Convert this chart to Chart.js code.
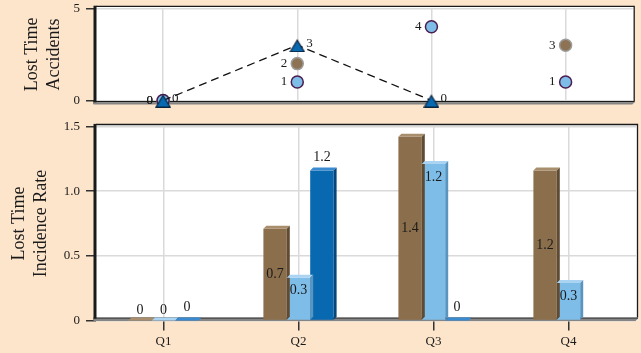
<!DOCTYPE html>
<html>
<head>
<meta charset="utf-8">
<script src="https://cdn.jsdelivr.net/npm/chart.js"></script>
<style>
  html, body { margin: 0; padding: 0; background: #fde5cc; }
  #wrap { position: relative; width: 641px; height: 353px; overflow: hidden; }
  #top { position: absolute; left: 0; top: 0; }
  #bottom { position: absolute; left: 0; top: 110px; }
</style>
</head>
<body>
<div id="wrap">
  <canvas id="top" width="641" height="110"></canvas>
  <canvas id="bottom" width="641" height="243"></canvas>
</div>
<script>
const quarters = ['Q1', 'Q2', 'Q3', 'Q4'];

// top panel - lost time accidents
const accidentsBrown = [0, 2, null, 3];
const accidentsLight = [0, 1, 4, 1];
const accidentsTriangle = [0, 3, 0, null];
const accidentTicks = [0, 5];

// bottom panel - lost time incidence rate
const rateBrown = [0, 0.71, 1.42, 1.16];
const rateLight = [0, 0.33, 1.21, 0.29];
const rateDark = [0, 1.16, 0, null];
const rateTicks = [0, 0.5, 1, 1.5];

const BROWN = '#8b6f4d';
const LIGHT = '#7fbde9';
const DARK = '#0868b0';
const GRID = '#dadada';
const TEXT = '#1a1a1a';
const SERIF = '"Liberation Serif", "Times New Roman", serif';

// triangle marker, centred on its bounding box like the original
function triangleImage() {
  const c = document.createElement('canvas');
  c.width = 16; c.height = 14;
  const g = c.getContext('2d');
  g.beginPath();
  g.moveTo(8, 2); g.lineTo(15, 13.5); g.lineTo(1, 13.5); g.closePath();
  g.fillStyle = DARK; g.fill();
  g.lineWidth = 1.2; g.strokeStyle = '#0b2440'; g.stroke();
  return c;
}

// white plot area with the dark 3D-ish frame
const frame = {
  id: 'frame',
  beforeDraw(chart) {
    const {ctx, chartArea: a} = chart;
    ctx.save();
    ctx.fillStyle = '#fff';
    ctx.fillRect(a.left, a.top - 2, a.right - a.left + 2, a.bottom - a.top + 2);
    ctx.restore();
  },
  beforeDatasetsDraw(chart, args, opts) {
    const {ctx, chartArea: a} = chart;
    const t = a.top - 2, r = a.right + 1.5, l = a.left;
    const bb = a.bottom + opts.band;
    ctx.save();
    ctx.strokeStyle = '#1a1a1a';
    ctx.lineWidth = 1.3;
    ctx.beginPath();
    ctx.moveTo(l, t); ctx.lineTo(r, t); ctx.lineTo(r, bb);
    ctx.stroke();
    ctx.fillStyle = '#1a1a1a';
    ctx.fillRect(l - 2.5, t - 0.6, 3, bb - t + 3.5);
    ctx.fillRect(l - 2.5, bb, r - l + 3, 1.3);
    ctx.fillStyle = '#858585';
    ctx.beginPath();
    ctx.moveTo(l - 2.5, bb + 1.3); ctx.lineTo(r + 0.5, bb + 1.3);
    ctx.lineTo(r - 2, bb + 3.5); ctx.lineTo(l - 2.5, bb + 3.5);
    ctx.fill();
    ctx.restore();
  }
};

// top and side faces for the bars
const bar3d = {
  id: 'bar3d',
  afterDatasetsDraw(chart) {
    const ctx = chart.ctx;
    const d = 3;
    chart.data.datasets.forEach((ds, i) => {
      if (!ds.faces) return;
      chart.getDatasetMeta(i).data.forEach((el, j) => {
        if (ds.data[j] === null) return;
        const l = el.x - el.width / 2, r = el.x + el.width / 2;
        ctx.save();
        ctx.fillStyle = ds.faces[0];
        ctx.beginPath();
        ctx.moveTo(l, el.y); ctx.lineTo(l + d, el.y - d);
        ctx.lineTo(r + d, el.y - d); ctx.lineTo(r, el.y);
        ctx.fill();
        ctx.fillStyle = ds.faces[1];
        ctx.beginPath();
        ctx.moveTo(r, el.y); ctx.lineTo(r + d, el.y - d);
        ctx.lineTo(r + d, el.base - d); ctx.lineTo(r, el.base);
        ctx.fill();
        ctx.restore();
      });
    });
  }
};

// value labels
const valueLabels = {
  id: 'valueLabels',
  afterDatasetsDraw(chart, args, opts) {
    const ctx = chart.ctx;
    ctx.save();
    ctx.font = opts.size + 'px ' + SERIF;
    ctx.fillStyle = TEXT;
    ctx.textBaseline = 'middle';
    chart.data.datasets.forEach((ds, i) => {
      chart.getDatasetMeta(i).data.forEach((el, j) => {
        const v = ds.data[j];
        if (v === null || v === undefined) return;
        const text = String(Number(v.toFixed(1)));
        let x = el.x, y = el.y, align = 'center';
        switch (ds.labelPos) {
          case 'left': x -= 10; align = 'right'; break;
          case 'right': x += 9; y -= 2; align = 'left'; break;
          case 'center': y = v === 0 ? el.base - 10 : (el.y + el.base) / 2; break;
          case 'insideEnd': y = v === 0 ? el.base - 10 : el.y + 13; break;
          case 'outsideEnd': y = el.y - 13; break;
        }
        ctx.textAlign = align;
        ctx.fillText(text, x, y);
      });
    });
    ctx.restore();
  }
};

const tickFont = { family: SERIF, size: 13 };
const titleFont = { family: SERIF, size: 18, lineHeight: 1.25 };

// fixed width for the y axis, and no extra room for the tick labels
function fitY(s) {
  s.width = 96;
  s.paddingTop = 0;
  s.paddingBottom = 0;
}

new Chart(document.getElementById('top'), {
  type: 'line',
  data: {
    labels: quarters,
    datasets: [
      // order: lower is drawn on top, so the triangles sit over the circles
      { data: accidentsBrown, order: 3, showLine: false, pointRadius: 6, pointBackgroundColor: '#8d7354',
        pointBorderColor: '#9c9c9c', pointBorderWidth: 1.5, labelPos: 'left', clip: false },
      { data: accidentsLight, order: 2, showLine: false, pointRadius: 6, pointBackgroundColor: LIGHT,
        pointBorderColor: '#4b1d50', pointBorderWidth: 1.5, labelPos: 'left', clip: false },
      { data: accidentsTriangle, order: 1, borderColor: '#111', borderWidth: 1.3, borderDash: [8, 5],
        pointStyle: triangleImage(), pointRadius: 7, tension: 0, labelPos: 'right', clip: false }
    ]
  },
  options: {
    responsive: false,
    animation: false,
    devicePixelRatio: 1,
    layout: { padding: { top: 7.5, right: 5, left: 0, bottom: 0 } },
    plugins: {
      legend: { display: false },
      tooltip: { enabled: false },
      frame: { band: 0.5 },
      valueLabels: { size: 13 }
    },
    scales: {
      x: {
        offset: true,
        grid: { offset: false, color: GRID, lineWidth: 1.5, drawTicks: false },
        border: { display: false },
        ticks: { display: false },
        afterFit(s) { s.height = 9.5; }
      },
      y: {
        min: 0, max: 5,
        afterBuildTicks(s) { s.ticks = accidentTicks.map(v => ({ value: v })); },
        grid: { color: GRID, lineWidth: 1.5, tickLength: 10, tickColor: '#333', tickWidth: 1.5 },
        border: { display: false },
        ticks: { font: tickFont, color: TEXT, padding: 6 },
        title: { display: true, text: ['Lost Time', 'Accidents'], font: titleFont, color: TEXT,
          padding: { top: 21, bottom: 0 } },
        afterFit: fitY
      }
    }
  },
  plugins: [frame, valueLabels]
});

new Chart(document.getElementById('bottom'), {
  type: 'bar',
  data: {
    labels: quarters,
    datasets: [
      { data: rateBrown, backgroundColor: BROWN, faces: ['#a88e6c', '#5f4b33'], labelPos: 'center' },
      { data: rateLight, backgroundColor: LIGHT, faces: ['#aad4f2', '#5a95c2'], labelPos: 'insideEnd' },
      { data: rateDark, backgroundColor: DARK, faces: ['#3a8ad0', '#05467c'], labelPos: 'outsideEnd' }
    ]
  },
  options: {
    responsive: false,
    animation: false,
    devicePixelRatio: 1,
    datasets: { bar: { categoryPercentage: 0.52, barPercentage: 1, borderWidth: 0 } },
    layout: { padding: { top: 16.5, right: 5, left: 0, bottom: 0 } },
    plugins: {
      legend: { display: false },
      tooltip: { enabled: false },
      frame: { band: -3 },
      valueLabels: { size: 14 }
    },
    scales: {
      x: {
        grid: { offset: false, color: GRID, lineWidth: 1.5, tickLength: 10, tickColor: '#333', tickWidth: 1.5 },
        border: { display: false },
        ticks: { font: tickFont, color: TEXT, padding: 3 },
        afterFit(s) { s.height = 32.5; }
      },
      y: {
        min: 0, max: 1.5,
        afterBuildTicks(s) { s.ticks = rateTicks.map(v => ({ value: v })); },
        grid: { color: GRID, lineWidth: 1.5, tickLength: 10, tickColor: '#333', tickWidth: 1.5 },
        border: { display: false },
        ticks: { font: tickFont, color: TEXT, padding: 6 },
        title: { display: true, text: ['Lost Time', 'Incidence Rate'], font: titleFont, color: TEXT,
          padding: { top: 8, bottom: 0 } },
        afterFit: fitY
      }
    }
  },
  plugins: [frame, bar3d, valueLabels]
});
</script>
</body>
</html>
